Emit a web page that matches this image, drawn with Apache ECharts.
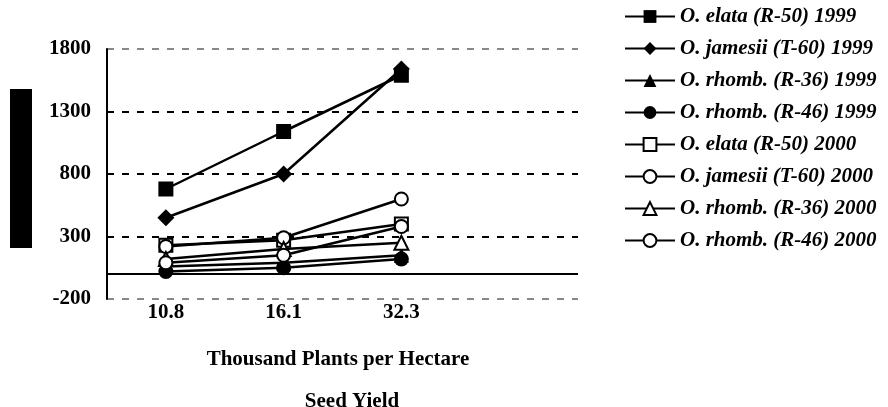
<!DOCTYPE html>
<html>
<head>
    <meta charset="utf-8">
    <title>Seed Yield</title>
    <script src="https://cdn.jsdelivr.net/npm/echarts@6/dist/echarts.min.js"></script>
    <style>
      html, body { margin: 0; padding: 0; background: #fff; }
      #main { width: 888px; height: 407px; }
    </style>
</head>
<body>
    <div id="main"></div>
    <script type="text/javascript">

// plant density (thousand plants / ha); last slot is an empty category
let categories = ['10.8', '16.1', '32.3', '']

let yMin = -200, yMax = 1800, yStep = 500

let names = [
  'O. elata (R-50) 1999',
  'O. jamesii (T-60) 1999',
  'O. rhomb. (R-36) 1999',
  'O. rhomb. (R-46) 1999',
  'O. elata (R-50) 2000',
  'O. jamesii (T-60) 2000',
  'O. rhomb. (R-36) 2000',
  'O. rhomb. (R-46) 2000'
]

// seed yield values
let elata1999   = [680, 1140, 1590]
let jamesii1999 = [450, 800, 1640]
let r36_1999    = [60, 90, 150]
let r46_1999    = [20, 50, 120]
let elata2000   = [230, 270, 400]
let jamesii2000 = [220, 290, 600]
let r36_2000    = [120, 200, 250]
let r46_2000    = [90, 150, 380]

let values = [elata1999, jamesii1999, r36_1999, r46_1999, elata2000, jamesii2000, r36_2000, r46_2000]
let symbols = ['rect', 'diamond', 'triangle', 'circle', 'rect', 'circle', 'triangle', 'circle']
let sizes = [15, 17, 15, 15, 13, 13, 14, 13]
let filled = [true, true, true, true, false, false, false, false]

let serif = "'Liberation Serif', 'Times New Roman', serif"

let series = names.map((n, i) => {
  let s = {
    name: n,
    type: 'line',
    data: values[i],
    symbol: symbols[i],
    symbolSize: sizes[i],
    showAllSymbol: true,
    lineStyle: { color: '#000', width: 2.5 },
    itemStyle: filled[i]
      ? { color: '#000', borderColor: '#000', borderWidth: 0 }
      : { color: '#fff', borderColor: '#000', borderWidth: 2 },
    emphasis: { disabled: true },
    z: 3
  }
  if (i === 0) {
    // zero line
    s.markLine = {
      silent: true,
      symbol: ['none', 'none'],
      label: { show: false },
      lineStyle: { color: '#000', type: 'solid', width: 2 },
      data: [{ yAxis: 0 }]
    }
  }
  return s
})

let option = {
  animation: false,
  textStyle: { fontFamily: serif },
  grid: { left: 107, top: 49, right: 310, bottom: 108, outerBoundsMode: 'none', containLabel: false },
  title: {
    text: 'Seed Yield',
    left: 347,
    top: 386,
    textAlign: 'center',
    textStyle: { fontFamily: serif, fontSize: 21, fontWeight: 'bold', color: '#000' }
  },
  // black box where the y axis title sits
  graphic: [
    {
      type: 'rect',
      shape: { x: 10, y: 89, width: 22, height: 159 },
      style: { fill: '#000' },
      silent: true
    },
    {
      type: 'text',
      x: 21,
      y: 168.5,
      rotation: Math.PI / 2,
      silent: true,
      style: {
        text: 'Seed Yield (kg/ha)',
        fill: '#000',
        font: "bold 14px 'Liberation Serif', serif",
        align: 'center',
        verticalAlign: 'middle'
      }
    }
  ],
  legend: {
    orient: 'vertical',
    left: 624,
    top: 6,
    padding: 0,
    itemWidth: 50,
    itemHeight: 16,
    itemGap: 11,
    selectedMode: false,
    textStyle: { fontFamily: serif, fontSize: 21, fontWeight: 'bold', fontStyle: 'italic', color: '#000' },
    data: names
  },
  xAxis: {
    type: 'category',
    data: categories,
    boundaryGap: true,
    name: 'Thousand Plants per Hectare',
    nameLocation: 'middle',
    nameGap: 50,
    nameTextStyle: { fontFamily: serif, fontSize: 21, fontWeight: 'bold', color: '#000', padding: [0, 9, 0, 0] },
    axisLine: { show: false },
    axisTick: { show: false },
    axisLabel: { fontFamily: serif, fontSize: 21, fontWeight: 'bold', color: '#000', margin: 3 },
    splitLine: { show: false }
  },
  yAxis: {
    type: 'value',
    min: yMin,
    max: yMax,
    interval: yStep,
    axisLine: { show: true, lineStyle: { color: '#000', width: 2 } },
    axisTick: { show: false },
    axisLabel: {
      fontFamily: serif, fontSize: 21, fontWeight: 'bold', color: '#000', margin: 16,
      formatter: v => String(v)
    },
    splitLine: {
      show: true,
      lineStyle: { color: ['#888', '#000', '#000', '#000', '#888'], width: 2, type: [7, 8] }
    }
  },
  series: series
}

echarts.init(document.getElementById('main')).setOption(option)

    </script>
</body>
</html>
